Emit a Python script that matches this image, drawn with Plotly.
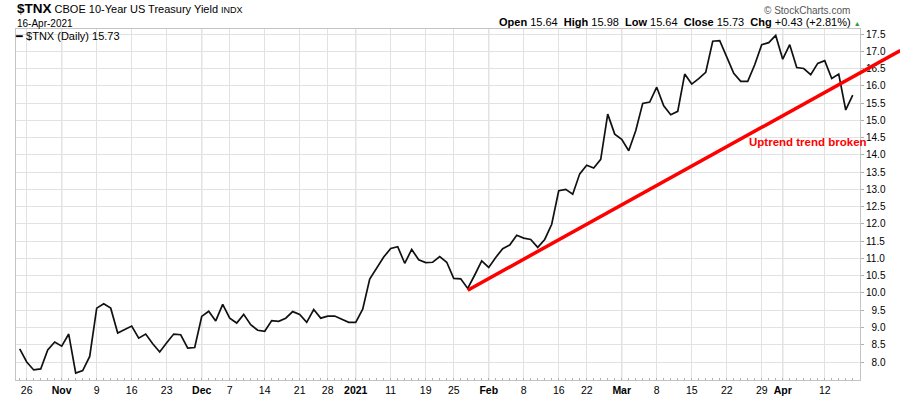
import pandas as pd
import plotly.graph_objects as go

# ---------------- data ----------------
HOLIDAYS = ["2020-11-26", "2020-12-25", "2021-01-01", "2021-01-18", "2021-02-15", "2021-04-02"]
dates = pd.bdate_range("2020-10-23", "2021-04-16", freq="C", holidays=HOLIDAYS)

tnx = [
    8.38, 8.00, 7.77, 7.80, 8.35, 8.58, 8.46, 8.81, 7.68, 7.75,
    8.16, 9.56, 9.69, 9.56, 8.84, 8.94, 9.04, 8.69, 8.81, 8.53,
    8.29, 8.56, 8.81, 8.79, 8.40, 8.42, 9.32, 9.47, 9.19, 9.67,
    9.27, 9.13, 9.38, 9.08, 8.92, 8.89, 9.20, 9.18, 9.27, 9.46,
    9.38, 9.15, 9.52, 9.27, 9.33, 9.33, 9.24, 9.15, 9.15, 9.53,
    10.40, 10.71, 11.04, 11.29, 11.34, 10.86, 11.26, 10.96, 10.88, 10.89,
    11.05, 10.89, 10.42, 10.41, 10.13, 10.52, 10.93, 10.74, 11.03, 11.28,
    11.39, 11.67, 11.59, 11.55, 11.32, 11.55, 11.99, 12.96, 13.00, 12.86,
    13.45, 13.70, 13.62, 13.87, 15.18, 14.60, 14.45, 14.12, 14.70, 15.49,
    15.53, 15.96, 15.42, 15.16, 15.26, 16.34, 16.05, 16.21, 16.39, 17.29,
    17.31, 16.84, 16.36, 16.13, 16.13, 16.61, 17.19, 17.25, 17.46, 16.77,
    17.19, 16.53, 16.50, 16.32, 16.65, 16.73, 16.21, 16.34, 15.30, 15.73,
]

tick_dates = ["2020-10-26", "2020-11-02", "2020-11-09", "2020-11-16", "2020-11-23",
              "2020-12-01", "2020-12-07", "2020-12-14", "2020-12-21", "2020-12-28",
              "2021-01-04", "2021-01-11", "2021-01-19", "2021-01-25", "2021-02-01",
              "2021-02-08", "2021-02-16", "2021-02-22", "2021-03-01", "2021-03-08",
              "2021-03-15", "2021-03-22", "2021-03-29", "2021-04-01", "2021-04-12"]
tick_labels = ["26", "Nov", "9", "16", "23", "Dec", "7", "14", "21", "28", "2021", "11",
               "19", "25", "Feb", "8", "16", "22", "Mar", "8", "15", "22", "29", "Apr", "12"]
month_labels = {"Nov", "Dec", "2021", "Feb", "Mar", "Apr"}

y_ticks = [8.0 + 0.5 * k for k in range(20)]

open_v, high_v, low_v, close_v = 15.64, 15.98, 15.64, 15.73
chg_text = "+0.43 (+2.81%)"

# trendline anchor (index, value) and slope in value per trading day
trend_start_idx, trend_start_val = 64, 10.08
trend_slope = 0.1123
trend_end_idx = 125.8

# ---------------- layout helpers ----------------
W, H = 900, 396
ML, MR, MT, MB = 16, 40, 29, 16
XR = [-0.53, 120.04]
YR = [7.479, 17.645]
PW, PH = W - ML - MR, H - MT - MB

def px_x(x):
    return (x - ML) / PW

def px_y(y):
    return (H - MB - y) / PH

def dx(i):
    return (i - XR[0]) / (XR[1] - XR[0])

def dy(v):
    return (v - YR[0]) / (YR[1] - YR[0])

idx = list(range(len(dates)))
date_pos = {d.strftime("%Y-%m-%d"): i for i, d in enumerate(dates)}
tick_vals = [date_pos[d] for d in tick_dates]
tick_text = [f"<b>{t}</b>" if t in month_labels else t for t in tick_labels]

FONT = "Liberation Sans, Arial, sans-serif"

fig = go.Figure()
fig.add_trace(go.Scatter(x=idx, y=tnx, mode="lines",
                         line=dict(color="#111111", width=1.7),
                         showlegend=False, hoverinfo="skip"))

shapes = []
for v, t in zip(tick_vals, tick_labels):
    if t in month_labels:
        shapes.append(dict(type="line", xref="x", yref="paper", x0=v, x1=v, y0=0, y1=1,
                           line=dict(color="#bcbcbc", width=1), layer="below"))

trend_end_val = trend_start_val + trend_slope * (trend_end_idx - trend_start_idx)
shapes.append(dict(type="line", xref="paper", yref="paper",
                   x0=dx(trend_start_idx), y0=dy(trend_start_val),
                   x1=dx(trend_end_idx), y1=dy(trend_end_val),
                   line=dict(color="#ff0000", width=3.5), layer="above"))

ann = []
ann.append(dict(xref="paper", yref="paper", x=px_x(15), y=px_y(8.5), xanchor="left", yanchor="middle",
                showarrow=False,
                text="<b><span style='font-size:13.5px'>$TNX</span></b> CBOE 10-Year US Treasury Yield "
                     "<span style='font-size:9px'>INDX</span>",
                font=dict(family=FONT, size=11, color="#000")))
ann.append(dict(xref="paper", yref="paper", x=px_x(15), y=px_y(23.5), xanchor="left", yanchor="middle",
                showarrow=False, text=dates[-1].strftime("%d-%b-%Y"),
                font=dict(family=FONT, size=10, color="#000")))
ann.append(dict(xref="paper", yref="paper", x=px_x(852), y=px_y(11), xanchor="right", yanchor="middle",
                showarrow=False, text="© StockCharts.com",
                font=dict(family=FONT, size=10, color="#555")))
ann.append(dict(xref="paper", yref="paper", x=px_x(863), y=px_y(22.5), xanchor="right", yanchor="middle",
                showarrow=False,
                text=f"<b>Open</b> {open_v:.2f}  <b>High</b> {high_v:.2f}  <b>Low</b> {low_v:.2f}  "
                     f"<b>Close</b> {close_v:.2f}  <b>Chg</b> {chg_text} "
                     "<span style='color:#2e9e2e;font-size:7px'>▲</span>",
                font=dict(family=FONT, size=11, color="#000")))
ann.append(dict(xref="paper", yref="paper", x=px_x(13), y=px_y(36), xanchor="left", yanchor="middle",
                showarrow=False, text=f"━ $TNX (Daily) {tnx[-1]:.2f}",
                font=dict(family=FONT, size=11, color="#000")))
ann.append(dict(xref="x", yref="y", x=103.9, y=14.36, xanchor="left", yanchor="middle",
                showarrow=False, text="<b>Uptrend trend broken</b>",
                font=dict(family=FONT, size=11.5, color="#ff0000")))

fig.update_layout(
    width=W, height=H, margin=dict(l=ML, r=MR, t=MT, b=MB, autoexpand=False),
    paper_bgcolor="white", plot_bgcolor="white",
    shapes=shapes, annotations=ann,
    xaxis=dict(range=XR, tickmode="array", tickvals=tick_vals, ticktext=tick_text,
               automargin=False,
               showgrid=True, gridcolor="#e2e2e2", gridwidth=1, zeroline=False,
               showline=True, mirror=True, linecolor="#c4c4c4", linewidth=1,
               ticks="", tickfont=dict(family=FONT, size=10.5, color="#000"),
               minor=dict(tickvals=idx, ticks="inside", ticklen=2, tickcolor="#b0b0b0", showgrid=False)),
    yaxis=dict(range=YR, side="right", tickmode="array", tickvals=y_ticks,
               automargin=False,
               ticktext=[("\u2007" if v < 10 else "") + f"{v:.1f}" for v in y_ticks],
               showgrid=True, gridcolor="#e2e2e2", gridwidth=1, zeroline=False,
               showline=True, mirror=True, linecolor="#c4c4c4", linewidth=1,
               ticks="outside", ticklen=3, tickcolor="#b0b0b0",
               tickfont=dict(family=FONT, size=10, color="#000")),
)

fig.write_html("out.html")
